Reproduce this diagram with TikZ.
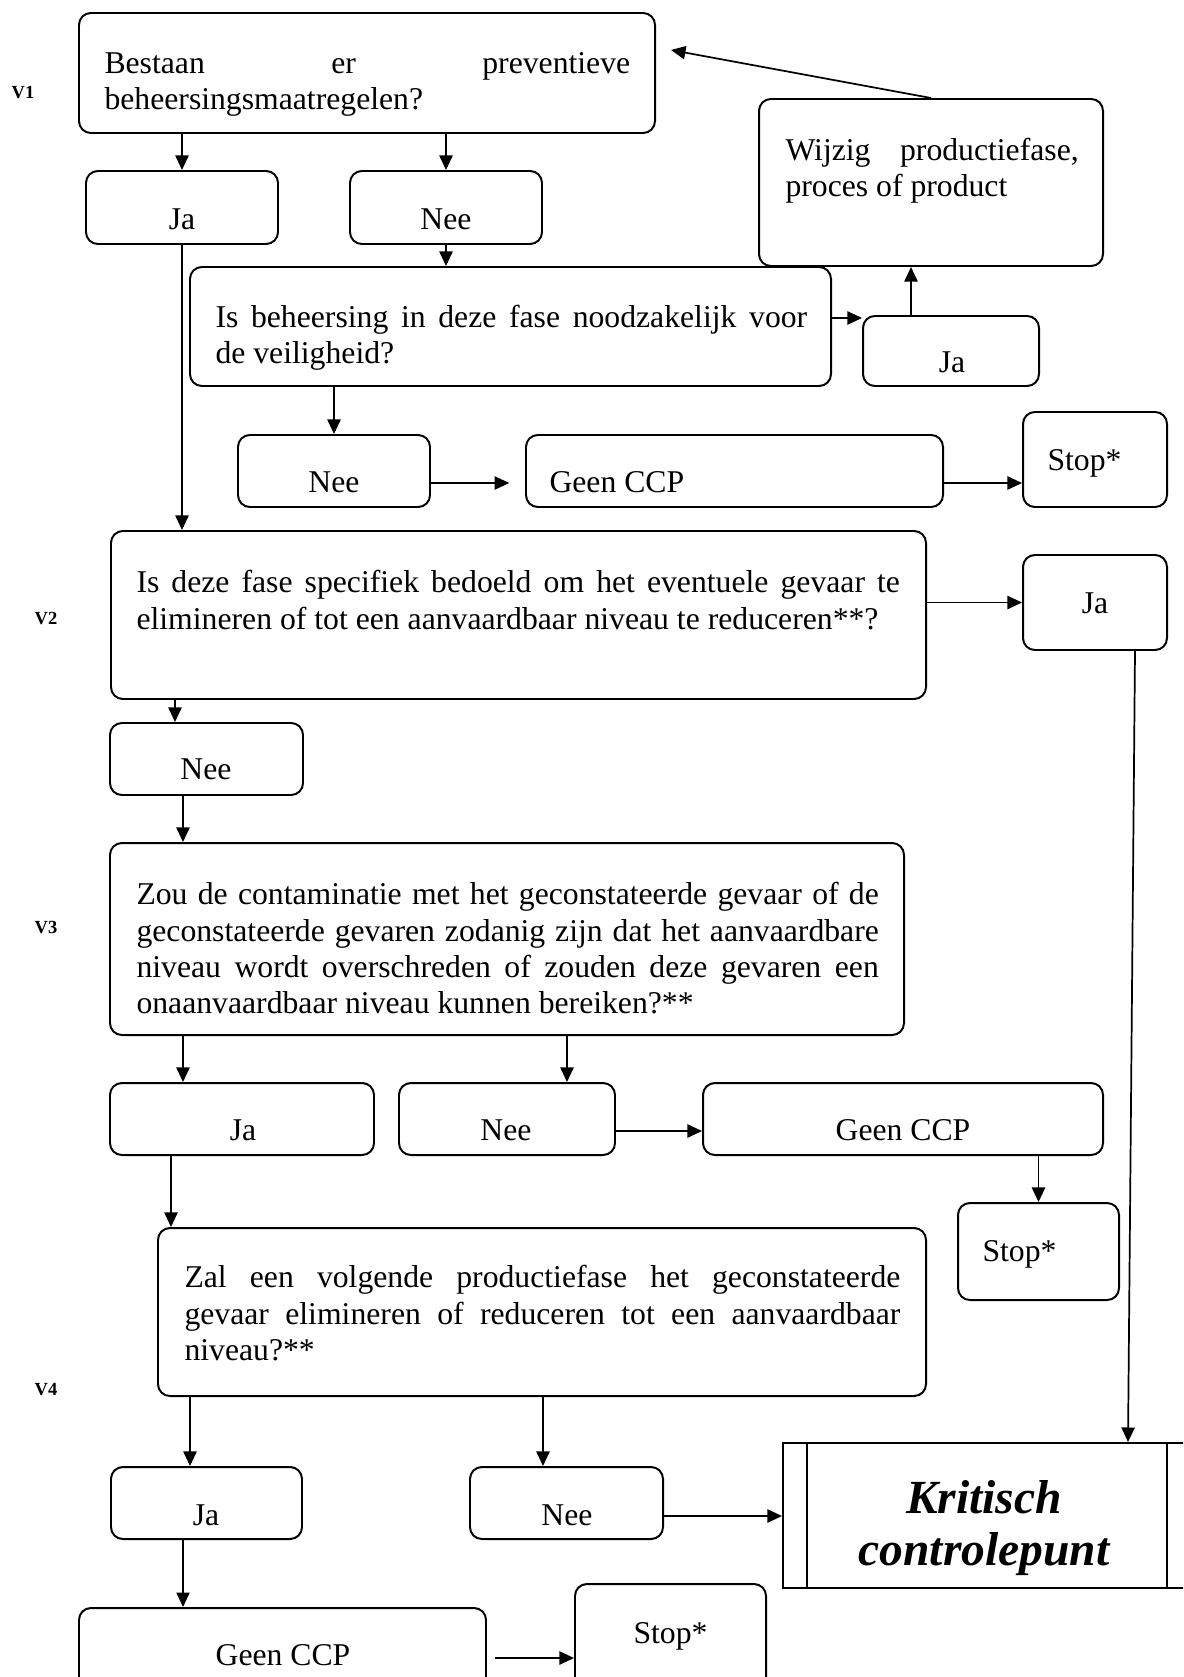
\documentclass[tikz,border=0pt]{standalone}
\usepackage{fontspec}
\setmainfont{Liberation Serif}
\usetikzlibrary{arrows.meta,fit}
\tolerance=10000
\hbadness=10000
\hyphenpenalty=10000

\begin{document}
\begin{tikzpicture}[x=0.0133cm, y=-0.0133cm,
	box/.style={draw, rounded corners=4.5pt, line width=0.75pt, inner sep=0pt, fit={#1}},
	cpbox/.style={draw, line width=0.75pt, inner sep=0pt, fit={#1}},
	qtext/.style={anchor=north west, inner sep=0pt, align=justify, font=\fontsize{12}{13.8}\selectfont},
	lbl/.style={anchor=base, inner sep=0pt, font=\fontsize{12}{13.8}\selectfont},
	lblw/.style={lbl, anchor=base west},
	qnum/.style={inner sep=0pt, font=\fontsize{7}{8}\selectfont\bfseries},
	cptext/.style={anchor=base, inner sep=0pt, font=\fontsize{18}{20}\selectfont\bfseries\itshape},
	arr/.style={-{Triangle[length=5.5pt,width=5pt]}, line width=0.65pt}]
	\useasboundingbox (0,0) rectangle (1183,1677);
	\clip (0,0) rectangle (1183,1677);

	% vraag 1
	\node[box={(79,13) (655,133)}] (v1) {};
	\node[box={(86,171) (278,244)}] (ja1) {};
	\node[box={(350,171) (542,244)}] (nee1) {};
	\node[box={(190,267) (831,386)}] (q1b) {};
	\node[box={(759,99) (1103,266)}] (wijzig) {};
	\node[box={(863,316) (1039,386)}] (ja2) {};
	\node[box={(238,435) (430,507)}] (nee2) {};
	\node[box={(526,435) (943,507)}] (geen1) {};
	\node[box={(1023,412) (1167,507)}] (stop1) {};
	% vraag 2
	\node[box={(111,531) (926,699)}] (v2) {};
	\node[box={(1023,555) (1167,650)}] (ja3) {};
	\node[box={(110,723) (303,795)}] (nee3) {};
	% vraag 3
	\node[box={(110,843) (904,1035)}] (v3) {};
	\node[box={(110,1083) (374,1155)}] (ja4) {};
	\node[box={(399,1083) (615,1155)}] (nee4) {};
	\node[box={(703,1083) (1103,1155)}] (geen2) {};
	\node[box={(958,1203) (1119,1300)}] (stop2) {};
	% vraag 4
	\node[box={(158,1228) (926,1396)}] (v4) {};
	\node[box={(111,1467) (302,1539)}] (ja5) {};
	\node[box={(470,1467) (663,1539)}] (nee5) {};
	\node[cpbox={(783,1443) (1192,1588)}] (kcp) {};
	\node[box={(79,1608) (486,1700)}] (geen3) {};
	\node[box={(575,1584) (766,1700)}] (stop3) {};

	\coordinate (kl) at (807,0);
	\coordinate (kr) at (1167,0);
	\draw[line width=0.75pt] (kl |- kcp.north) -- (kl |- kcp.south);
	\draw[line width=0.75pt] (kr |- kcp.north) -- (kr |- kcp.south);

	% teksten
	\node[qnum] (v1l) at (23,93) {V1};
	\node[qnum] (v2l) at (46,619) {V2};
	\node[qnum] (v3l) at (46,928) {V3};
	\node[qnum] (v4l) at (46,1390) {V4};

	\node[qtext, text width=199pt] (v1t) at (104,47.5) {\strut Bestaan er preventieve\linebreak beheersingsmaatregelen?};
	\node[qtext, text width=224pt] (q1bt) at (215,301.5) {\strut Is beheersing in deze fase noodzakelijk voor\linebreak de veiligheid?};
	\node[qtext, text width=111pt] (wijzigt) at (785,134.5) {\strut Wijzig productiefase,\linebreak proces of product};
	\node[qtext, text width=289pt] (v2t) at (136,566.5) {\strut Is deze fase specifiek bedoeld om het eventuele gevaar te\linebreak elimineren of tot een aanvaardbaar niveau te reduceren**?};
	\node[qtext, text width=281pt] (v3t) at (136,878.5) {\strut Zou de contaminatie met het geconstateerde gevaar of de\linebreak geconstateerde gevaren zodanig zijn dat het aanvaardbare\linebreak niveau wordt overschreden of zouden deze gevaren een\linebreak onaanvaardbaar niveau kunnen bereiken?**};
	\node[qtext, text width=271pt] (v4t) at (184,1261.5) {\strut Zal een volgende productiefase het geconstateerde\linebreak gevaar elimineren of reduceren tot een aanvaardbaar\linebreak niveau?**};

	\node[lbl] (ja1t) at (182,229) {Ja};
	\node[lbl] (nee1t) at (446,229) {Nee};
	\node[lbl] (ja2t) at (952,372) {Ja};
	\node[lbl] (nee2t) at (334,492) {Nee};
	\node[lblw] (geen1t) at (549,492) {Geen CCP};
	\node[lblw] (stop1t) at (1047,470) {Stop*};
	\node[lbl] (ja3t) at (1095,613) {Ja};
	\node[lbl] (nee3t) at (206,779) {Nee};
	\node[lbl] (ja4t) at (243,1140) {Ja};
	\node[lbl] (nee4t) at (506,1140) {Nee};
	\node[lbl] (geen2t) at (903,1140) {Geen CCP};
	\node[lblw] (stop2t) at (982,1261) {Stop*};
	\node[lbl] (ja5t) at (206,1525) {Ja};
	\node[lbl] (nee5t) at (567,1525) {Nee};
	\node[cptext] (kcpt1) at (984,1513) {Kritisch};
	\node[cptext] (kcpt2) at (984,1565) {controlepunt};
	\node[lbl] (geen3t) at (283,1665) {Geen CCP};
	\node[lblw] (stop3t) at (633,1643) {Stop*};

	% pijlen
	\coordinate (xnee3) at (175,0);
	\coordinate (xv3) at (183,0);
	\coordinate (xnee4) at (567,0);
	\coordinate (xv4) at (171,0);
	\coordinate (xja5) at (190,0);
	\coordinate (xnee5) at (543,0);
	\coordinate (xwijzig) at (911,0);
	\coordinate (xja3) at (1135,0);
	\coordinate (xkcp) at (1128,0);
	\coordinate (yja2) at (0,318);
	\coordinate (ygeen1) at (0,483);
	\coordinate (ygeen2) at (0,1131);
	\coordinate (ykcp) at (0,1516);
	\coordinate (ystop3) at (0,1658);
	\coordinate (v1back) at (671,50);

	\draw[arr] (v1.south -| ja1.north) -- (ja1.north);
	\draw[arr] (v1.south -| nee1.north) -- (nee1.north);
	\draw[arr] (nee1.south) -- (nee1.south |- q1b.north);
	\draw[arr] (ja1.south) -- (ja1.south |- v2.north);
	\draw[arr] (q1b.east |- yja2) -- (ja2.west |- yja2);
	\draw[arr] (xwijzig |- ja2.north) -- (xwijzig |- wijzig.south);
	\draw[arr] (wijzig.north) -- (v1back);
	\draw[arr] (q1b.south -| nee2.north) -- (nee2.north);
	\draw[arr, shorten >=6pt] (nee2.east |- ygeen1) -- (geen1.west |- ygeen1);
	\draw[arr] (geen1.east |- ygeen1) -- (stop1.west |- ygeen1);
	\draw[arr] (v2.east |- ja3.west) -- (ja3.west);
	\draw[arr] (xja3 |- ja3.south) -- (xkcp |- kcp.north);
	\draw[arr] (xnee3 |- v2.south) -- (xnee3 |- nee3.north);
	\draw[arr] (xv3 |- nee3.south) -- (xv3 |- v3.north);
	\draw[arr] (xv3 |- v3.south) -- (xv3 |- ja4.north);
	\draw[arr] (xnee4 |- v3.south) -- (xnee4 |- nee4.north);
	\draw[arr] (nee4.east |- ygeen2) -- (geen2.west |- ygeen2);
	\draw[arr] (geen2.south -| stop2.north) -- (stop2.north);
	\draw[arr] (xv4 |- ja4.south) -- (xv4 |- v4.north);
	\draw[arr] (xja5 |- v4.south) -- (xja5 |- ja5.north);
	\draw[arr] (xnee5 |- v4.south) -- (xnee5 |- nee5.north);
	\draw[arr] (nee5.east |- ykcp) -- (kcp.west |- ykcp);
	\draw[arr] (xv3 |- ja5.south) -- (xv3 |- geen3.north);
	\draw[arr, shorten <=3pt] (geen3.east |- ystop3) -- (stop3.west |- ystop3);
\end{tikzpicture}
\end{document}
